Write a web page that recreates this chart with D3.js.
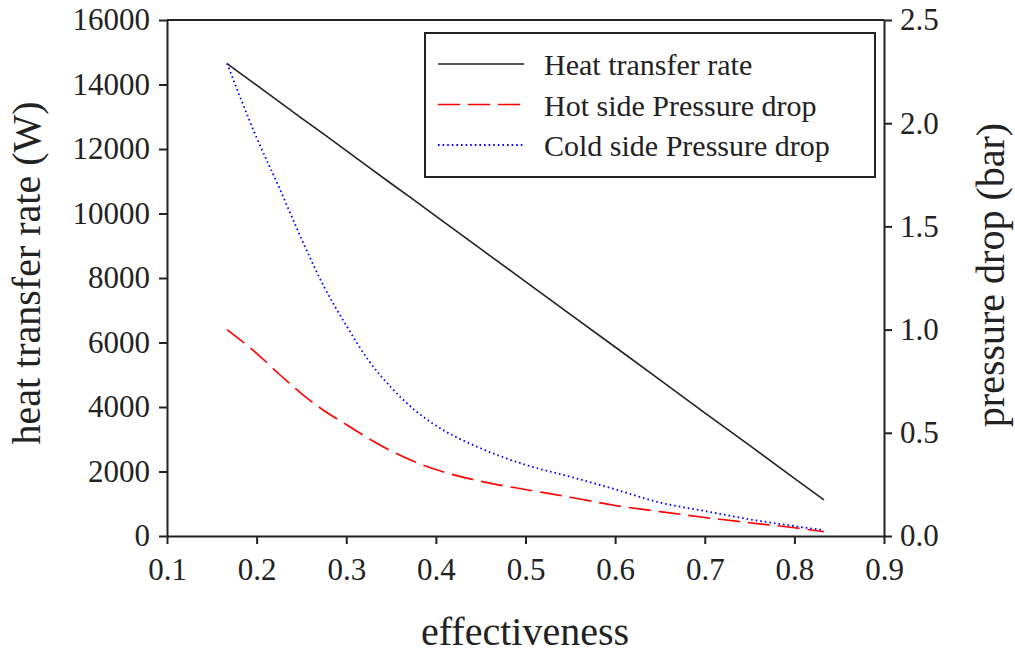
<!DOCTYPE html>
<html>
<head>
<meta charset="utf-8">
<script src="https://cdn.jsdelivr.net/npm/d3@7"></script>
<style>
  body { margin: 0; background: #fff; }
  .axis path, .axis line { stroke: #222; stroke-width: 2; }
</style>
</head>
<body>
<svg id="chart"></svg>
<script>
// effectiveness values (x)
const effectiveness = [0.167, 0.2, 0.225, 0.25, 0.275, 0.3, 0.325, 0.35, 0.375, 0.4, 0.45, 0.5, 0.55, 0.6, 0.65, 0.7, 0.75, 0.8, 0.833];
// heat transfer rate (W), left axis
const heatRate = [14650, 13980, 13470, 12960, 12460, 11950, 11440, 10930, 10430, 9920, 8900, 7890, 6870, 5860, 4840, 3820, 2810, 1790, 1120];
// pressure drops (bar), right axis
const hotDrop = [1.0, 0.885, 0.785, 0.69, 0.608, 0.54, 0.472, 0.412, 0.362, 0.322, 0.265, 0.225, 0.188, 0.148, 0.118, 0.09, 0.064, 0.04, 0.021];
const coldDrop = [2.29, 1.93, 1.69, 1.44, 1.21, 1.02, 0.85, 0.72, 0.615, 0.535, 0.425, 0.345, 0.287, 0.226, 0.162, 0.121, 0.081, 0.048, 0.028];

const xTicks = [0.1, 0.2, 0.3, 0.4, 0.5, 0.6, 0.7, 0.8, 0.9];
const leftTicks = [0, 2000, 4000, 6000, 8000, 10000, 12000, 14000, 16000];
const rightTicks = [0, 0.5, 1.0, 1.5, 2.0, 2.5];

const seriesNames = ["Heat transfer rate", "Hot side Pressure drop", "Cold side Pressure drop"];

const settings = {
  width: 1015,
  height: 654,
  left: 167,
  right: 884,
  top: 20,
  bottom: 536,
  tickFont: 31,
  titleFont: 40,
  legendFont: 30,
  font: "Liberation Serif, DejaVu Serif, Noto Serif, Times New Roman, Times, FreeSerif, Nimbus Roman, serif"
};

const svg = d3.select("#chart")
  .attr("width", settings.width)
  .attr("height", settings.height)
  .style("font-family", settings.font);

const x = d3.scaleLinear().domain([0.1, 0.9]).range([settings.left, settings.right]);
const yLeft = d3.scaleLinear().domain([0, 16000]).range([settings.bottom, settings.top]);
const yRight = d3.scaleLinear().domain([0, 2.5]).range([settings.bottom, settings.top]);

// top frame line
svg.append("line")
  .attr("x1", settings.left).attr("x2", settings.right)
  .attr("y1", settings.top).attr("y2", settings.top)
  .attr("stroke", "#222").attr("stroke-width", 2);

svg.append("g")
  .attr("class", "axis")
  .attr("transform", `translate(0,${settings.bottom})`)
  .call(d3.axisBottom(x).tickValues(xTicks).tickFormat(d3.format(".1f"))
    .tickSize(8).tickSizeOuter(0).tickPadding(14));

svg.append("g")
  .attr("class", "axis")
  .attr("transform", `translate(${settings.left},0)`)
  .call(d3.axisLeft(yLeft).tickValues(leftTicks).tickFormat(d3.format("d"))
    .tickSize(8).tickSizeOuter(0).tickPadding(9));

svg.append("g")
  .attr("class", "axis")
  .attr("transform", `translate(${settings.right},0)`)
  .call(d3.axisRight(yRight).tickValues(rightTicks).tickFormat(d3.format(".1f"))
    .tickSize(8).tickSizeOuter(0).tickPadding(8));

svg.selectAll(".axis").attr("font-family", null).attr("font-size", settings.tickFont);
svg.selectAll(".axis text").attr("fill", "#222");

// axis titles
svg.append("text")
  .attr("x", 525).attr("y", 645)
  .attr("text-anchor", "middle")
  .text("effectiveness");

svg.append("text")
  .attr("transform", "translate(40,273) rotate(-90)")
  .attr("text-anchor", "middle")
  .text("heat transfer rate (W)");

svg.append("text")
  .attr("transform", "translate(1004,275) rotate(-90)")
  .attr("text-anchor", "middle")
  .text("pressure drop (bar)");

svg.selectAll(":scope > text")
  .attr("font-size", settings.titleFont)
  .attr("fill", "#222");

// lines
const heatLine = d3.line()
  .x((d, i) => x(effectiveness[i]))
  .y(d => yLeft(d));

const dropLine = d3.line()
  .curve(d3.curveMonotoneX)
  .x((d, i) => x(effectiveness[i]))
  .y(d => yRight(d));

svg.append("path")
  .datum(heatRate)
  .attr("d", heatLine)
  .attr("fill", "none")
  .attr("stroke", "#222")
  .attr("stroke-width", 1.6);

svg.append("path")
  .datum(hotDrop)
  .attr("d", dropLine)
  .attr("fill", "none")
  .attr("stroke", "#ff0000")
  .attr("stroke-width", 1.6)
  .attr("stroke-dasharray", "22,8");

svg.append("path")
  .datum(coldDrop)
  .attr("d", dropLine)
  .attr("fill", "none")
  .attr("stroke", "#0000ff")
  .attr("stroke-width", 1.8)
  .attr("stroke-dasharray", "1.6,3");

// legend
const legend = svg.append("g").attr("transform", "translate(425,33)");

legend.append("rect")
  .attr("width", 450).attr("height", 144)
  .attr("fill", "#fff")
  .attr("stroke", "#222").attr("stroke-width", 2);

const legendStyles = [
  { color: "#222", dash: null, width: 1.6 },
  { color: "#ff0000", dash: "22,8", width: 1.6 },
  { color: "#0000ff", dash: "1.6,3", width: 1.8 }
];

const legendRows = legend.selectAll("g.legend-row")
  .data(seriesNames)
  .enter()
  .append("g")
  .attr("class", "legend-row")
  .attr("transform", (d, i) => `translate(0,${31 + i * 40.5})`);

legendRows.append("line")
  .attr("x1", 13).attr("x2", 99)
  .attr("stroke", (d, i) => legendStyles[i].color)
  .attr("stroke-width", (d, i) => legendStyles[i].width)
  .attr("stroke-dasharray", (d, i) => legendStyles[i].dash);

legendRows.append("text")
  .attr("x", 119)
  .attr("y", 11)
  .attr("font-size", settings.legendFont)
  .attr("fill", "#222")
  .text(d => d);
</script>
</body>
</html>
